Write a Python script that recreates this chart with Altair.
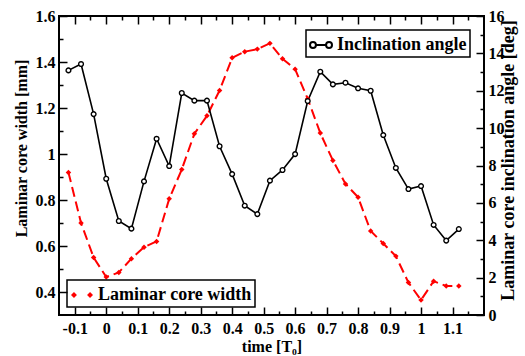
import altair as alt
import pandas as pd

# ---- data ----
t = [-0.12, -0.08, -0.04, 0.0, 0.04, 0.08, 0.12, 0.16, 0.2, 0.24, 0.28, 0.32,
     0.36, 0.4, 0.44, 0.48, 0.52, 0.56, 0.6, 0.64, 0.68, 0.72, 0.76, 0.8,
     0.84, 0.88, 0.92, 0.96, 1.0, 1.04, 1.08, 1.12]
width_mm = [0.92, 0.70, 0.55, 0.465, 0.485, 0.545, 0.595, 0.62, 0.805, 0.933,
            1.088, 1.166, 1.276, 1.418, 1.445, 1.456, 1.481, 1.414, 1.369, 1.24,
            1.091, 0.972, 0.870, 0.812, 0.665, 0.611, 0.556, 0.441, 0.365, 0.447,
            0.426, 0.426]
angle_deg = [13.09, 13.43, 10.75, 7.29, 5.03, 4.62, 7.15, 9.43, 7.97, 11.88,
             11.47, 11.47, 9.03, 7.54, 5.85, 5.40, 7.19, 7.76, 8.61, 11.45,
             13.02, 12.34, 12.43, 12.13, 12.0, 9.63, 7.87, 6.74, 6.90, 4.82,
             3.98, 4.60]

x_major = [-0.1, 0, 0.1, 0.2, 0.3, 0.4, 0.5, 0.6, 0.7, 0.8, 0.9, 1, 1.1]
x_minor = [-0.05, 0.05, 0.15, 0.25, 0.35, 0.45, 0.55, 0.65, 0.75, 0.85, 0.95, 1.05, 1.15]
yl_major = [0.4, 0.6, 0.8, 1, 1.2, 1.4, 1.6]
yl_minor = [0.5, 0.7, 0.9, 1.1, 1.3, 1.5]
yr_major = [0, 2, 4, 6, 8, 10, 12, 14, 16]
yr_minor = [1, 3, 5, 7, 9, 11, 13, 15]

df = pd.DataFrame({"t": t, "width": width_mm, "angle": angle_deg})

FONT = "Liberation Serif"
MAJ, MIN = 8, 4

xscale = alt.Scale(domain=[-0.15, 1.2], nice=False, zero=False)
ylscale = alt.Scale(domain=[0.3, 1.6], nice=False, zero=False)
yrscale = alt.Scale(domain=[0, 16], nice=False, zero=False)

common_lab = dict(domain=False, grid=False, ticks=False, labelFont=FONT, labelFontSize=16,
                  labelFontWeight="bold", labelColor="black", labelOverlap=False,
                  labelFlush=False, labelExpr="toString(datum.value)",
                  titleFont=FONT, titleFontWeight="bold", titleColor="black")


def tick_axis(orient, values, size):
    return alt.Axis(orient=orient, values=values, offset=-size, tickSize=size, labels=False,
                    domain=False, grid=False, title=None, tickWidth=1.5, tickColor="black")


ax_x_lab = alt.Axis(orient="bottom", values=x_major, labelPadding=5, title="time [T₀]",
                    titleFontSize=16, titlePadding=2, **common_lab)
ax_yl_lab = alt.Axis(orient="left", values=yl_major, labelPadding=4,
                     title="Laminar core width [mm]", titleFontSize=16,
                     titleAngle=270, titleX=-38, titleY=132, titleAlign="center",
                     titleBaseline="middle", **common_lab)
ax_yr_lab = alt.Axis(orient="right", values=yr_major, labelPadding=4,
                     title="Laminar core inclination angle [deg]", titleFontSize=18,
                     titleAngle=270, titleX=24, titleY=144, titleAlign="center",
                     titleBaseline="middle", **common_lab)

black_sym = ("M-0.46,0L0.46,0"
             "M-1,0A0.27,0.27 0 1,0 -0.46,0A0.27,0.27 0 1,0 -1,0Z"
             "M0.46,0A0.27,0.27 0 1,0 1,0A0.27,0.27 0 1,0 0.46,0Z")
red_sym = ("M-1,0L-0.73,-0.27L-0.46,0L-0.73,0.27Z"
           "M0.46,0L0.73,-0.27L1,0L0.73,0.27Z"
           "M-0.5,0L-0.12,0M0.12,0L0.5,0")

leg_common = dict(title=None, symbolSize=484, symbolStrokeWidth=2, strokeColor="black",
                  padding=3, labelFont=FONT, labelFontSize=18, labelFontWeight="bold",
                  labelColor="black", labelOffset=4)

base = alt.Chart(df)

red_line = base.mark_line(color="#ff0000", strokeWidth=2, strokeDash=[10, 5]).encode(
    x=alt.X("t:Q", scale=xscale, axis=ax_x_lab),
    y=alt.Y("width:Q", scale=ylscale, axis=ax_yl_lab),
)

red_pts = base.transform_calculate(lab="'Laminar core width'").mark_point(
    shape="diamond", filled=True, size=30, opacity=1).encode(
    x=alt.X("t:Q", scale=xscale, axis=tick_axis("bottom", x_major, MAJ)),
    y=alt.Y("width:Q", scale=ylscale, axis=tick_axis("left", yl_major, MAJ)),
    color=alt.Color("lab:N", scale=alt.Scale(domain=["Laminar core width"], range=["#ff0000"]),
                    legend=alt.Legend(orient="bottom-left", offset=8, symbolType=red_sym,
                                      **leg_common)),
)

black_line = base.mark_line(color="black", strokeWidth=1.6).encode(
    x=alt.X("t:Q", scale=xscale, axis=tick_axis("bottom", x_minor, MIN)),
    y=alt.Y("angle:Q", scale=yrscale, axis=ax_yr_lab),
)

black_pts = base.transform_calculate(lab="'Inclination angle'").mark_point(
    shape="circle", filled=False, fill="white", size=22, strokeWidth=1.4, opacity=1).encode(
    x=alt.X("t:Q", scale=xscale, axis=tick_axis("top", x_major, MAJ)),
    y=alt.Y("angle:Q", scale=yrscale, axis=tick_axis("right", yr_major, MAJ)),
    color=alt.Color("lab:N", scale=alt.Scale(domain=["Inclination angle"], range=["black"]),
                    legend=alt.Legend(orient="top-right", offset=14, symbolType=black_sym,
                                      **leg_common)),
)

ghost1 = base.mark_line(opacity=0).encode(
    x=alt.X("t:Q", scale=xscale, axis=tick_axis("top", x_minor, MIN)),
    y=alt.Y("width:Q", scale=ylscale, axis=tick_axis("left", yl_minor, MIN)),
)

ghost2 = base.mark_line(opacity=0).encode(
    x=alt.X("t:Q", scale=xscale, axis=None),
    y=alt.Y("angle:Q", scale=yrscale, axis=tick_axis("right", yr_minor, MIN)),
)

chart = alt.layer(red_line, black_line, red_pts, black_pts, ghost1, ghost2).resolve_scale(
    y="independent", color="independent"
).resolve_axis(
    x="independent", y="independent"
).properties(
    width=425, height=299,
    autosize=alt.AutoSizeParams(type="none"),
    padding={"left": 59, "top": 16, "right": 41, "bottom": 41},
    background="white",
).configure_view(
    stroke="black", strokeWidth=2
).configure_legend(
    strokeWidth=1.5
)

chart.save("out.html", embed_options={"renderer": "svg", "actions": False})
